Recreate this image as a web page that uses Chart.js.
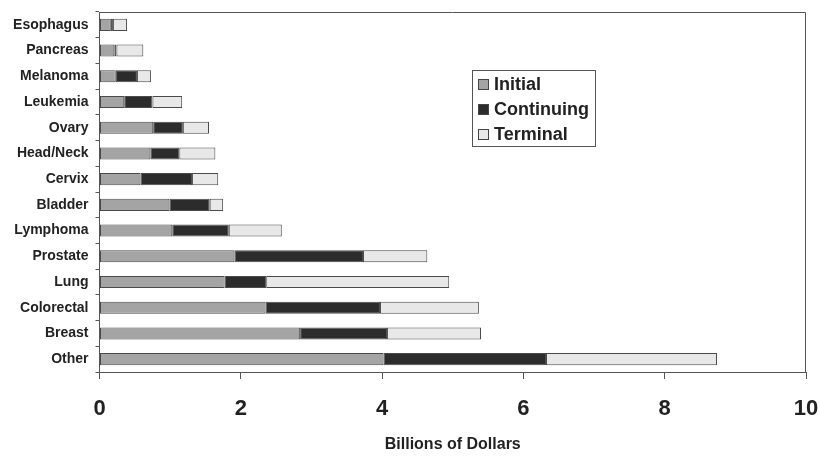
<!DOCTYPE html>
<html>
<head>
<meta charset="utf-8">
<script src="https://cdn.jsdelivr.net/npm/chart.js@4.4.1/dist/chart.umd.min.js"></script>
<style>
  html, body { margin: 0; padding: 0; background: #fff; }
  #wrap { width: 820px; height: 457px; }
</style>
</head>
<body>
<div id="wrap"><canvas id="chartCusto" width="820" height="457"></canvas></div>
<script>
// Categorias (de cima para baixo)
const categorias = ['Esophagus', 'Pancreas', 'Melanoma', 'Leukemia', 'Ovary', 'Head/Neck', 'Cervix',
    'Bladder', 'Lymphoma', 'Prostate', 'Lung', 'Colorectal', 'Breast', 'Other'];

// Valores em bilhões de dólares
const inicial    = [0.16, 0.21, 0.23, 0.35, 0.76, 0.72, 0.58, 0.99, 1.03, 1.91, 1.77, 2.35, 2.84, 4.02];
const continuado = [0.03, 0.03, 0.30, 0.40, 0.42, 0.41, 0.73, 0.57, 0.80, 1.82, 0.59, 1.62, 1.23, 2.30];
const terminal   = [0.20, 0.38, 0.20, 0.42, 0.37, 0.51, 0.37, 0.19, 0.75, 0.91, 2.59, 1.40, 1.33, 2.42];

const nomesSeries = ['Initial', 'Continuing', 'Terminal'];
const ticksX = [0, 2, 4, 6, 8, 10];

const fonte = '"Liberation Sans", Arial, Helvetica, sans-serif';
const corTexto = '#222';
const corLinha = '#555';

// Legenda desenhada dentro da área do gráfico
const legendaInterna = {
    id: 'legendaInterna',
    afterDraw(chart) {
        const ctx = chart.ctx;
        const x0 = 472, y0 = 70, w = 123, h = 76;
        ctx.save();
        ctx.fillStyle = '#fff';
        ctx.fillRect(x0, y0, w, h);
        ctx.strokeStyle = corLinha;
        ctx.lineWidth = 1;
        ctx.strokeRect(x0 + 0.5, y0 + 0.5, w, h);
        ctx.font = 'bold 18px ' + fonte;
        ctx.textBaseline = 'middle';
        chart.data.datasets.forEach((ds, i) => {
            const cy = y0 + 14 + i * 25;
            ctx.fillStyle = ds.backgroundColor;
            ctx.fillRect(x0 + 6, cy - 5, 10, 10);
            ctx.strokeStyle = '#444';
            ctx.strokeRect(x0 + 6.5, cy - 4.5, 10, 10);
            ctx.fillStyle = corTexto;
            ctx.fillText(ds.label, x0 + 22, cy + 1);
        });
        ctx.restore();
    }
};

// Moldura superior e direita
const moldura = {
    id: 'moldura',
    beforeDatasetsDraw(chart) {
        const a = chart.chartArea;
        const ctx = chart.ctx;
        ctx.save();
        ctx.strokeStyle = corLinha;
        ctx.lineWidth = 1;
        ctx.beginPath();
        ctx.moveTo(a.left, a.top + 0.5);
        ctx.lineTo(a.right - 0.5, a.top + 0.5);
        ctx.lineTo(a.right - 0.5, a.bottom);
        ctx.stroke();
        ctx.restore();
    }
};

function plotarGrafico() {
    const ctx = document.getElementById('chartCusto').getContext('2d');
    const cores = ['#a4a4a4', '#2c2c2c', '#e8e8e8'];
    const series = [inicial, continuado, terminal];
    new Chart(ctx, {
        type: 'bar',
        data: {
            labels: categorias,
            datasets: series.map((d, i) => ({
                label: nomesSeries[i],
                data: d,
                backgroundColor: cores[i],
                borderColor: '#4a4a4a',
                borderWidth: 1,
                borderSkipped: false,
                barPercentage: 0.47,
                categoryPercentage: 1
            }))
        },
        options: {
            indexAxis: 'y',
            responsive: false,
            animation: false,
            layout: { padding: { top: 12, right: 14, left: 0, bottom: 0 } },
            scales: {
                x: {
                    stacked: true,
                    min: 0,
                    max: 10,
                    afterBuildTicks: (s) => { s.ticks = ticksX.map(v => ({ value: v })); },
                    afterFit: (s) => { s.height = 85; s.paddingLeft = 0; s.paddingRight = 0; },
                    grid: { drawOnChartArea: false, drawTicks: true, tickLength: 7, color: corLinha },
                    border: { display: true, color: corLinha, width: 1 },
                    ticks: {
                        padding: 17,
                        color: corTexto,
                        font: { family: fonte, size: 22, weight: 'bold' }
                    },
                    title: {
                        display: true,
                        text: 'Billions of Dollars',
                        color: corTexto,
                        padding: { top: 0, bottom: 3 },
                        font: { family: fonte, size: 16, weight: 'bold' }
                    }
                },
                y: {
                    stacked: true,
                    afterFit: (s) => { s.width = 99.5; s.paddingTop = 0; s.paddingBottom = 0; },
                    grid: { drawOnChartArea: false, drawTicks: true, tickLength: 4, offset: true, color: corLinha },
                    border: { display: true, color: corLinha, width: 1 },
                    ticks: {
                        padding: 7,
                        color: corTexto,
                        font: { family: fonte, size: 14, weight: 'bold' }
                    }
                }
            },
            plugins: {
                legend: { display: false },
                tooltip: { enabled: false }
            }
        },
        plugins: [moldura, legendaInterna]
    });
}
window.onload = function () {
    plotarGrafico();
};
</script>
</body>
</html>
